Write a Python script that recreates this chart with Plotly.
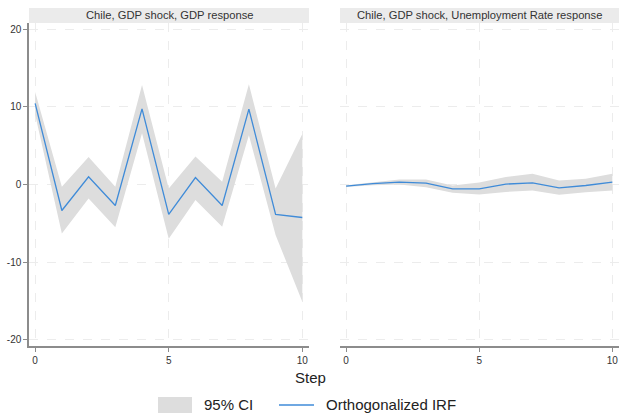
import plotly.graph_objects as go

steps = [0, 1, 2, 3, 4, 5, 6, 7, 8, 9, 10]

# Panel 1: Chile, GDP shock, GDP response
gdp_irf = [10.45, -3.35, 1.0, -2.7, 9.75, -3.85, 0.9, -2.7, 9.7, -3.85, -4.25]
gdp_upper = [11.9, -0.3, 3.55, -0.3, 12.8, -0.5, 3.6, 0.35, 12.9, -0.5, 6.5]
gdp_lower = [9.0, -6.3, -1.8, -5.5, 6.6, -7.0, -2.0, -5.45, 6.35, -6.5, -15.1]

# Panel 2: Chile, GDP shock, Unemployment Rate response
ur_irf = [-0.22, 0.1, 0.3, 0.17, -0.56, -0.56, 0.05, 0.21, -0.43, -0.13, 0.3]
ur_upper = [-0.1, 0.3, 0.64, 0.64, -0.13, 0.25, 0.95, 1.37, 0.5, 0.73, 1.37]
ur_lower = [-0.32, -0.1, 0.0, -0.35, -1.07, -1.3, -0.95, -0.77, -1.33, -1.0, -0.77]

panel_titles = ["Chile, GDP shock, GDP response",
                "Chile, GDP shock, Unemployment Rate response"]
legend_labels = ["95% CI", "Orthogonalized IRF"]
y_tickvals = [-20, -10, 0, 10, 20]
y_ticktext = ["-20", "-10", "0", "10", "20"]
x_tickvals = [0, 5, 10]

BLUE = "#3f8bd8"
BAND = "#dddddd"
AXIS = "#8c8c8c"
GRID = "#ececec"
FONT = "Arial"

fig = go.Figure()

panels = [(gdp_irf, gdp_upper, gdp_lower, "x", "y"),
          (ur_irf, ur_upper, ur_lower, "x2", "y2")]
for i, (irf, up, lo, xa, ya) in enumerate(panels):
    fig.add_trace(go.Scatter(
        x=steps + steps[::-1], y=up + lo[::-1], fill="toself",
        fillcolor=BAND, line=dict(width=0), mode="lines",
        name=legend_labels[0], showlegend=False,
        xaxis=xa, yaxis=ya, hoverinfo="skip"))
for i, (irf, up, lo, xa, ya) in enumerate(panels):
    fig.add_trace(go.Scatter(
        x=steps, y=irf, mode="lines", line=dict(color=BLUE, width=1.3),
        name=legend_labels[1], showlegend=False,
        xaxis=xa, yaxis=ya))

L = 29
W = 619 - L
H = 346 - 23
d1 = [0, (309 - L) / W]
d2 = [(340 - L) / W, 1.0]


def px_x(p):
    return (p - L) / W


def px_y(p):
    return (346 - p) / H


xcommon = dict(range=[-0.23, 10.25], tickvals=x_tickvals, showgrid=True,
               gridcolor=GRID, griddash="dash", gridwidth=1, zeroline=False,
               showline=True, linecolor=AXIS, linewidth=1.5,
               ticks="outside", ticklen=4, tickcolor=AXIS,
               tickfont=dict(size=10, color="#333", family=FONT))
ycommon = dict(range=[-20.8, 20.8], tickvals=y_tickvals, ticktext=y_ticktext,
               showgrid=True, gridcolor=GRID, griddash="dash", gridwidth=1,
               zeroline=False)

fig.update_layout(
    width=619, height=419,
    margin=dict(l=L, r=0, t=23, b=419 - 346),
    paper_bgcolor="white", plot_bgcolor="white",
    font=dict(family=FONT, color="#222"),
    xaxis=dict(domain=d1, anchor="y", **xcommon),
    xaxis2=dict(domain=d2, anchor="y2", **xcommon),
    yaxis=dict(anchor="x", showline=True, linecolor=AXIS, linewidth=1.5,
               ticks="outside", ticklen=4, tickcolor=AXIS,
               tickfont=dict(size=10, color="#333", family=FONT), **ycommon),
    yaxis2=dict(anchor="x2", showline=False, showticklabels=False, **ycommon),
    showlegend=False,
)

strip_y0 = 1.0
strip_y1 = px_y(8)
for dom, title in zip([d1, d2], panel_titles):
    fig.add_shape(type="rect", xref="paper", yref="paper",
                  x0=dom[0], x1=dom[1], y0=strip_y0, y1=strip_y1,
                  fillcolor="#ebebeb", line=dict(width=0), layer="below")
    fig.add_annotation(xref="paper", yref="paper",
                       x=(dom[0] + dom[1]) / 2, y=(strip_y0 + strip_y1) / 2,
                       text=title, showarrow=False, xanchor="center",
                       yanchor="middle",
                       font=dict(size=11.2, color="#333", family=FONT))

fig.add_annotation(xref="paper", yref="paper", x=px_x(310),
                   y=px_y(377), text="Step", showarrow=False,
                   xanchor="center", yanchor="middle",
                   font=dict(size=15, color="#222", family=FONT))

# Manual legend
fig.add_shape(type="rect", xref="paper", yref="paper",
              x0=px_x(158), x1=px_x(192), y0=px_y(413), y1=px_y(397),
              fillcolor=BAND, line=dict(width=0))
fig.add_annotation(xref="paper", yref="paper", x=px_x(202), y=px_y(405),
                   text=legend_labels[0], showarrow=False, xanchor="left",
                   yanchor="middle",
                   font=dict(size=15, color="#222", family=FONT))
fig.add_shape(type="line", xref="paper", yref="paper",
              x0=px_x(279), x1=px_x(314), y0=px_y(405), y1=px_y(405),
              line=dict(color=BLUE, width=1.5))
fig.add_annotation(xref="paper", yref="paper", x=px_x(324), y=px_y(405),
                   text=legend_labels[1], showarrow=False, xanchor="left",
                   yanchor="middle",
                   font=dict(size=15, color="#222", family=FONT))

fig.write_html("out.html")
